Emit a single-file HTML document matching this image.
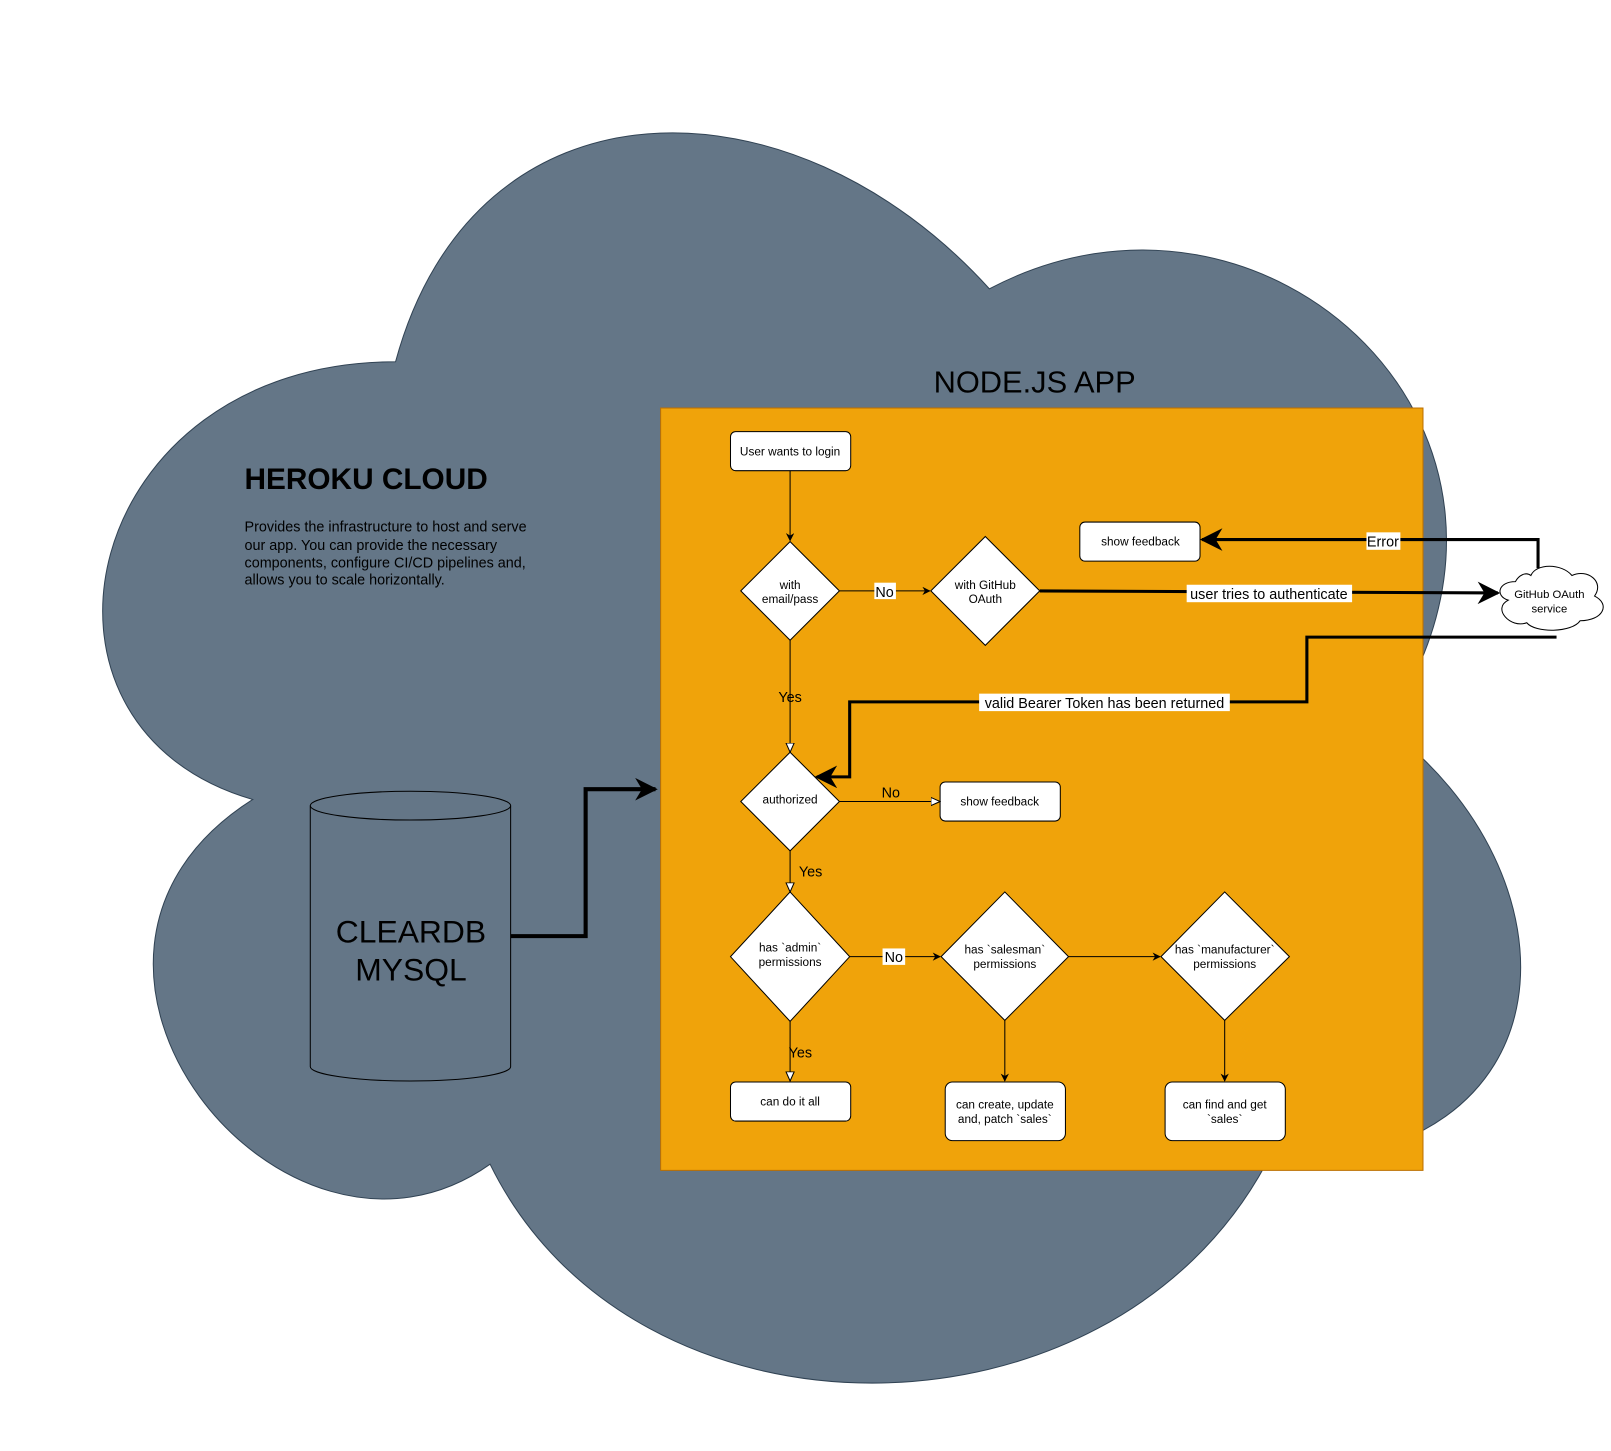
<!DOCTYPE html>
<html><head><meta charset="utf-8"><style>html,body{margin:0;padding:0;background:#fff}svg{display:block}text{font-family:"Liberation Sans",Arial,sans-serif}</style></head>
<body>
<svg width="1611" height="1451" viewBox="0 0 1568 1412" xmlns="http://www.w3.org/2000/svg">
<defs>
<marker id="a" viewBox="0 0 10 10" refX="9" refY="5" markerWidth="8" markerHeight="8" orient="auto" markerUnits="userSpaceOnUse"><path d="M0,0 L10,5 L0,10 L3,5 Z" fill="#000"/></marker>
<marker id="o" viewBox="0 0 10 10" refX="9" refY="5" markerWidth="10" markerHeight="10" orient="auto" markerUnits="userSpaceOnUse"><path d="M0,1 L9,5 L0,9 Z" fill="#fff" stroke="#000"/></marker>
<marker id="b" viewBox="0 0 10 10" refX="9" refY="5" markerWidth="22" markerHeight="22" orient="auto" markerUnits="userSpaceOnUse"><path d="M0,0 L10,5 L0,10 L3,5 Z" fill="#000"/></marker>
</defs>
<path d="M385,352 C77,352 0,707 246,778 C0,934 277,1275 477,1133 C616,1417 1078,1417 1232,1133 C1540,1133 1540,849 1348,707 C1540,423 1232,139 963,281 C770,68 462,68 385,352 Z" fill="#647687" stroke="#314354"/>
<text x="238" y="476" font-size="29" font-weight="bold">HEROKU CLOUD</text>
<text font-size="14"><tspan x="238" y="517">Provides the infrastructure to host and serve</tspan><tspan x="238" y="535">our app. You can provide the necessary</tspan><tspan x="238" y="552">components, configure CI/CD pipelines and,</tspan><tspan x="238" y="569">allows you to scale horizontally.</tspan></text>
<path d="M302,784 L302,1038 A97.5,14 0 0 0 497,1038 L497,784" fill="#647687" stroke="#000"/>
<ellipse cx="399.5" cy="784" rx="97.5" ry="14" fill="#647687" stroke="#000"/>
<text x="400" y="917" font-size="31" text-anchor="middle">CLEARDB</text>
<text x="400" y="954" font-size="31" text-anchor="middle">MYSQL</text>
<text x="1007" y="382" font-size="30" text-anchor="middle">NODE.JS APP</text>
<rect x="643" y="397" width="742" height="742" fill="#f0a30a" stroke="#BD7000"/>
<polyline points="497,911 570,911 570,768 638,768" fill="none" stroke="#000" stroke-width="4" marker-end="url(#b)"/>
<g stroke="#000" fill="#fff">
<rect x="711" y="420" width="117" height="38" rx="5"/>
<polygon points="769,527 817,575 769,623 721,575"/>
<polygon points="959,522 1012,575 959,628 906,575"/>
<rect x="1051" y="508" width="117" height="38" rx="5"/>
<polygon points="769,732 817,780 769,828 721,780"/>
<rect x="915" y="761" width="117" height="38" rx="5"/>
<polygon points="769,868 827,931 769,994 711,931"/>
<polygon points="978,868 1040,931 978,993 916,931"/>
<polygon points="1192,868 1255,931 1192,993 1130,931"/>
<rect x="711" y="1053" width="117" height="38" rx="5"/>
<rect x="920" y="1053" width="117" height="57" rx="7"/>
<rect x="1134" y="1053" width="117" height="57" rx="7"/>
<path d="M1475,566 C1458,566 1455,580 1468,584 C1452,592 1470,612 1486,606 C1494,616 1530,616 1538,604 C1560,604 1568,588 1552,580 C1562,566 1545,553 1530,560 C1520,548 1495,548 1490,560 C1485,556 1478,560 1475,566 Z"/>
</g>
<g stroke="#000" fill="none">
<line x1="769" y1="458" x2="769" y2="526" marker-end="url(#a)"/>
<line x1="817" y1="575" x2="905" y2="575" marker-end="url(#a)"/>
<line x1="1012" y1="575" x2="1458" y2="577" stroke-width="3" marker-end="url(#b)"/>
<polyline points="1497,553 1497,525 1170,525" stroke-width="3" marker-end="url(#b)"/>
<polyline points="1515,620 1272,620 1272,683 827,683 827,756 795,756" stroke-width="3" marker-end="url(#b)"/>
<line x1="769" y1="623" x2="769" y2="732" marker-end="url(#o)"/>
<line x1="817" y1="780" x2="915" y2="780" marker-end="url(#o)"/>
<line x1="769" y1="828" x2="769" y2="868" marker-end="url(#o)"/>
<line x1="827" y1="931" x2="915" y2="931" marker-end="url(#a)"/>
<line x1="1040" y1="931" x2="1129" y2="931" marker-end="url(#a)"/>
<line x1="769" y1="994" x2="769" y2="1052" marker-end="url(#o)"/>
<line x1="978" y1="993" x2="978" y2="1052" marker-end="url(#a)"/>
<line x1="1192" y1="993" x2="1192" y2="1052" marker-end="url(#a)"/>
</g>
<g fill="#fff">
<rect x="851" y="567" width="21" height="16"/>
<rect x="1155" y="569" width="161" height="17"/>
<rect x="1330" y="518" width="33" height="17"/>
<rect x="953" y="675" width="244" height="17"/>
<rect x="859" y="923" width="22" height="16"/>
</g>
<g font-size="14" text-anchor="middle">
<text x="861" y="581">No</text>
<text x="1235" y="583">user tries to authenticate</text>
<text x="1346" y="532">Error</text>
<text x="1075" y="689">valid Bearer Token has been returned</text>
<text x="769" y="683">Yes</text>
<text x="867" y="776">No</text>
<text x="789" y="853">Yes</text>
<text x="870" y="936">No</text>
<text x="779" y="1029">Yes</text>
</g>
<g font-size="11.5" text-anchor="middle">
<text x="769" y="443">User wants to login</text>
<text x="769" y="573">with</text><text x="769" y="587">email/pass</text>
<text x="959" y="573">with GitHub</text><text x="959" y="587">OAuth</text>
<text x="1110" y="531">show feedback</text>
<text x="1508" y="582" font-size="11">GitHub OAuth</text><text x="1508" y="596" font-size="11">service</text>
<text x="769" y="782">authorized</text>
<text x="973" y="784">show feedback</text>
<text x="769" y="926">has `admin`</text><text x="769" y="940">permissions</text>
<text x="978" y="928">has `salesman`</text><text x="978" y="942">permissions</text>
<text x="1192" y="928">has `manufacturer`</text><text x="1192" y="942">permissions</text>
<text x="769" y="1076">can do it all</text>
<text x="978" y="1079">can create, update</text><text x="978" y="1093">and, patch `sales`</text>
<text x="1192" y="1079">can find and get</text><text x="1192" y="1093">`sales`</text>
</g>
</svg>
</body></html>
